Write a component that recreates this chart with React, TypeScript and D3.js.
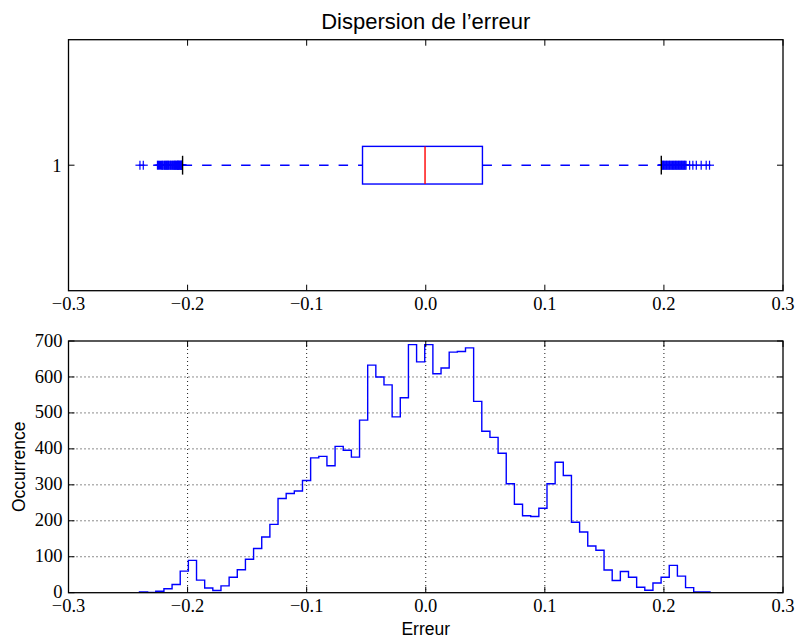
import React from "react";
import * as d3 from "d3";

// ---- Data ----
const xTicks = [-0.3, -0.2, -0.1, 0.0, 0.1, 0.2, 0.3];
const xTickLabels = ["\u22120.3", "\u22120.2", "\u22120.1", "0.0", "0.1", "0.2", "0.3"];
const yTicksHist = [0, 100, 200, 300, 400, 500, 600, 700];
const boxCategories = [1];

// histogram: 70 bins between histMin and histMax
const histMin = -0.2404;
const histMax = 0.2387;
const histCounts = [
  2, 1, 4, 11, 23, 60, 90, 35, 13, 6,
  19, 43, 64, 93, 123, 155, 190, 262, 276, 283,
  312, 375, 379, 353, 407, 396, 377, 480, 633, 600,
  578, 489, 542, 690, 642, 690, 609, 625, 669, 671,
  681, 532, 449, 432, 388, 303, 246, 214, 212, 235,
  303, 363, 326, 196, 169, 130, 118, 63, 34, 59,
  43, 15, 7, 27, 43, 76, 46, 14, 2, 2,
];

// boxplot statistics
const boxQ1 = -0.0531;
const boxMedian = -0.0006;
const boxQ3 = 0.0476;
const whiskerLow = -0.2042;
const whiskerHigh = 0.1978;
const outliersLow = [
  -0.24, -0.2372, -0.2253, -0.2245, -0.2236, -0.2227, -0.2218, -0.2212, -0.2207,
  -0.2199, -0.2193, -0.2187, -0.2182, -0.2176, -0.2171, -0.2166, -0.2161, -0.2155,
  -0.2148, -0.2143, -0.2137, -0.2131, -0.2126, -0.2120, -0.2115, -0.2110, -0.2106,
  -0.2102, -0.2098, -0.2092, -0.2088, -0.2085, -0.2082, -0.2079, -0.2076, -0.2073,
  -0.2068, -0.2064, -0.2060, -0.2056, -0.2053, -0.205, -0.2047, -0.2045,
];
const outliersHigh = [
  0.1982, 0.1985, 0.1991, 0.1997, 0.2003, 0.201, 0.2016, 0.2022, 0.2028, 0.2035,
  0.2041, 0.2047, 0.2053, 0.206, 0.2066, 0.2073, 0.2079, 0.2085, 0.2091, 0.2098,
  0.2104, 0.211, 0.2116, 0.2123, 0.2129, 0.2135, 0.2141, 0.2148, 0.2154, 0.216,
  0.2166, 0.2173, 0.2179, 0.2186, 0.2216, 0.2243, 0.2272, 0.2313, 0.2355, 0.2383,
];

const W = 799;
const H = 639;
const left = 68.5;
const right = 783;
const top1 = 39.7;
const bot1 = 290.7;
const top2 = 341;
const bot2 = 592.7;

const serif = "'Liberation Serif', 'DejaVu Serif', serif";
const sans = "'Liberation Sans', Arial, sans-serif";
const blue = "#0000ff";
const tickLen = 6;

export default function App() {
  const x = d3.scaleLinear().domain([-0.3, 0.3]).range([left, right]);
  const yBox = d3.scaleLinear().domain([0.5, 1.5]).range([bot1, top1]);
  const yHist = d3.scaleLinear().domain([0, 700]).range([bot2, top2]);

  const binW = (histMax - histMin) / histCounts.length;
  const pts: [number, number][] = [[histMin, 0]];
  histCounts.forEach((c, i) => pts.push([histMin + i * binW, c]));
  pts.push([histMax, histCounts[histCounts.length - 1]]);
  pts.push([histMax, 0]);
  const histPath = d3
    .line<[number, number]>()
    .x((d) => x(d[0]))
    .y((d) => yHist(d[1]))
    .curve(d3.curveStepAfter)(pts) as string;

  const cy = yBox(boxCategories[0]);
  const boxHalf = (yBox(0) - yBox(0.15)) / 2;
  const capHalf = boxHalf / 2;
  const m = 4.5; // plus marker half size

  const xTickMarks = (yb: number, yt: number) =>
    xTicks.map((t, i) => (
      <g key={i}>
        <line x1={x(t)} x2={x(t)} y1={yb} y2={yb - tickLen} stroke="#000" strokeWidth={1} />
        <line x1={x(t)} x2={x(t)} y1={yt} y2={yt + tickLen} stroke="#000" strokeWidth={1} />
      </g>
    ));
  const xTickLabelsEl = (yb: number) =>
    xTicks.map((t, i) => (
      <text key={i} x={x(t)} y={yb + 19.5} textAnchor="middle" fontFamily={serif} fontSize={18.5} fill="#000">
        {xTickLabels[i]}
      </text>
    ));

  return (
    <svg width={W} height={H} style={{ position: "absolute", left: 0, top: 0, background: "#fff" }}>
      <rect x={0} y={0} width={W} height={H} fill="#fff" />
      {/* Title */}
      <text x={(left + right) / 2} y={29} textAnchor="middle" fontFamily={sans} fontSize={22} fill="#000">
        Dispersion de l’erreur
      </text>

      {/* ---- Top: boxplot ---- */}
      <line x1={x(whiskerLow)} x2={x(boxQ1)} y1={cy} y2={cy} stroke={blue} strokeWidth={1.4} strokeDasharray="9.5,10" />
      <line x1={x(boxQ3)} x2={x(whiskerHigh)} y1={cy} y2={cy} stroke={blue} strokeWidth={1.4} strokeDasharray="9.5,10" />
      {[...outliersLow, ...outliersHigh].map((v, i) => (
        <g key={i} stroke={blue} strokeWidth={1.2}>
          <line x1={x(v) - m} x2={x(v) + m} y1={cy} y2={cy} />
          <line x1={x(v)} x2={x(v)} y1={cy - m} y2={cy + m} />
        </g>
      ))}
      <line x1={x(whiskerLow)} x2={x(whiskerLow)} y1={cy - capHalf} y2={cy + capHalf} stroke="#000" strokeWidth={1.4} />
      <line x1={x(whiskerHigh)} x2={x(whiskerHigh)} y1={cy - capHalf} y2={cy + capHalf} stroke="#000" strokeWidth={1.4} />
      <rect
        x={x(boxQ1)}
        y={cy - boxHalf}
        width={x(boxQ3) - x(boxQ1)}
        height={2 * boxHalf}
        fill="none"
        stroke={blue}
        strokeWidth={1.4}
      />
      <line x1={x(boxMedian)} x2={x(boxMedian)} y1={cy - boxHalf} y2={cy + boxHalf} stroke="#ff0000" strokeWidth={1.4} />

      <rect x={left} y={top1} width={right - left} height={bot1 - top1} fill="none" stroke="#000" strokeWidth={1.3} />
      {xTickMarks(bot1, top1)}
      {boxCategories.map((c) => (
        <g key={c}>
          <line x1={left} x2={left + tickLen} y1={yBox(c)} y2={yBox(c)} stroke="#000" strokeWidth={1} />
          <line x1={right} x2={right - tickLen} y1={yBox(c)} y2={yBox(c)} stroke="#000" strokeWidth={1} />
          <text x={left - 7} y={yBox(c)} dy="0.35em" textAnchor="end" fontFamily={serif} fontSize={18.5} fill="#000">
            {c}
          </text>
        </g>
      ))}
      {xTickLabelsEl(bot1)}

      {/* ---- Bottom: histogram ---- */}
      {xTicks.slice(1, -1).map((t, i) => (
        <line key={"gx" + i} x1={x(t)} x2={x(t)} y1={top2} y2={bot2} stroke="#000" strokeWidth={0.9} strokeDasharray="1,3" />
      ))}
      {yTicksHist.slice(1, -1).map((t, i) => (
        <line key={"gy" + i} x1={left} x2={right} y1={yHist(t)} y2={yHist(t)} stroke="#000" strokeWidth={0.9} strokeDasharray="1,3" />
      ))}
      <path d={histPath} fill="none" stroke={blue} strokeWidth={1.4} />
      <rect x={left} y={top2} width={right - left} height={bot2 - top2} fill="none" stroke="#000" strokeWidth={1.3} />
      {xTickMarks(bot2, top2)}
      {yTicksHist.map((t, i) => (
        <g key={"yt" + i}>
          <line x1={left} x2={left + tickLen} y1={yHist(t)} y2={yHist(t)} stroke="#000" strokeWidth={1} />
          <line x1={right} x2={right - tickLen} y1={yHist(t)} y2={yHist(t)} stroke="#000" strokeWidth={1} />
          <text x={left - 6} y={yHist(t)} dy="0.3em" textAnchor="end" fontFamily={serif} fontSize={18.5} fill="#000">
            {t}
          </text>
        </g>
      ))}
      {xTickLabelsEl(bot2)}
      <text x={(left + right) / 2} y={635} textAnchor="middle" fontFamily={sans} fontSize={17.5} fill="#000">
        Erreur
      </text>
      <text
        transform={`translate(25, ${(top2 + bot2) / 2}) rotate(-90)`}
        textAnchor="middle"
        fontFamily={sans}
        fontSize={17.5}
        fill="#000"
      >
        Occurrence
      </text>
    </svg>
  );
}
